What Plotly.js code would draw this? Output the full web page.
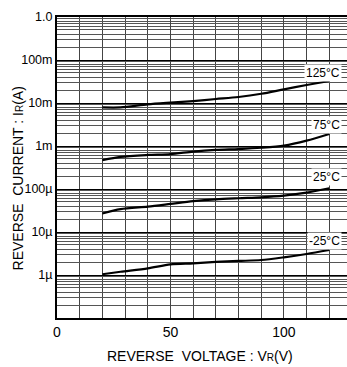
<!DOCTYPE html>
<html>
<head>
<meta charset="utf-8">
<script src="https://cdn.plot.ly/plotly-3.0.1.min.js"></script>
<style>
html,body{margin:0;padding:0;background:#fff;}
#chart{width:347px;height:367px;}
</style>
</head>
<body>
<div id="chart"></div>
<script>
// Reverse voltage (V)
const voltage = [20, 28, 40, 50, 60, 70, 80, 90, 100, 110, 120];
// Reverse current (A) per temperature
const cur125 = [7.9e-3, 7.9e-3, 9.3e-3, 1.02e-2, 1.11e-2, 1.24e-2, 1.38e-2, 1.64e-2, 2.08e-2, 2.62e-2, 3.25e-2];
const cur75  = [4.7e-4, 5.6e-4, 6.2e-4, 6.5e-4, 7.4e-4, 8.1e-4, 8.5e-4, 9.1e-4, 1.02e-3, 1.33e-3, 1.9e-3];
const cur25  = [2.7e-5, 3.4e-5, 3.9e-5, 4.5e-5, 5.2e-5, 5.75e-5, 6.1e-5, 6.4e-5, 7.0e-5, 8.2e-5, 1.04e-4];
const curM25 = [1.04e-6, 1.19e-6, 1.43e-6, 1.77e-6, 1.87e-6, 2.01e-6, 2.12e-6, 2.23e-6, 2.58e-6, 3.08e-6, 3.81e-6];
const seriesNames = ['125°C', '75°C', '25°C', '-25°C'];
const labelY = [-1.309, -2.512, -3.728, -5.202]; // log10 position of curve labels

const yTickVals = [1e-6, 1e-5, 1e-4, 1e-3, 1e-2, 1e-1, 1];
const yTickText = ['1µ', '10µ', '100µ', '1m', '10m', '100m', '1.0'];
const xTickVals = [0, 50, 100];
const xTickText = ['0', '50', '100'];

const yMinor = [];
for (let e = -7; e < 0; e++) {
  for (let d = 2; d <= 9; d++) yMinor.push(d * Math.pow(10, e));
}

const FONT = 'Liberation Sans, Arial, Helvetica, sans-serif';
const series = [cur125, cur75, cur25, curM25];
const traces = series.map((s, i) => ({
  x: voltage, y: s, type: 'scatter', mode: 'lines', name: seriesNames[i],
  line: {color: '#000', width: 2.2, shape: 'spline', smoothing: 0.8},
  hoverinfo: 'skip'
}));

const annotations = seriesNames.map((n, i) => ({
  x: 125.6, y: labelY[i], xref: 'x', yref: 'y', text: n, showarrow: false,
  xanchor: 'right', yanchor: 'middle', bgcolor: '#fff', borderpad: 1,
  font: {family: FONT, size: 12, color: '#000'}
}));
annotations.push({
  xref: 'paper', yref: 'paper', x: -0.1345, y: 0.4635, textangle: -90,
  text: "REVERSE  CURRENT : I<span style='font-size:10px'>R</span>(A)",
  showarrow: false, xanchor: 'center', yanchor: 'middle',
  font: {family: FONT, size: 14, color: '#000'}
});
annotations.push({
  xref: 'paper', yref: 'paper', x: 0.493, y: -0.126,
  text: "REVERSE  VOLTAGE : V<span style='font-size:10px'>R</span>(V)",
  showarrow: false, xanchor: 'center', yanchor: 'middle',
  font: {family: FONT, size: 14, color: '#000'}
});

const layout = {
  width: 347, height: 367,
  margin: {l: 57, r: 0, t: 17, b: 49, pad: 0},
  paper_bgcolor: '#fff', plot_bgcolor: '#fff',
  showlegend: false,
  font: {family: FONT, color: '#000'},
  xaxis: {
    range: [0, 127.8], tickmode: 'array', tickvals: xTickVals, ticktext: xTickText,
    showgrid: true, gridcolor: '#444', gridwidth: 1, zeroline: false,
    showline: true, linecolor: '#000', linewidth: 2, mirror: true,
    ticks: '', tickfont: {family: FONT, size: 14, color: '#000'},
    minor: {tickmode: 'linear', tick0: 0, dtick: 10, showgrid: true, gridcolor: '#444', gridwidth: 1, ticks: ''}
  },
  yaxis: {
    type: 'log', range: [-7, 0], tickmode: 'array', tickvals: yTickVals, ticktext: yTickText,
    showgrid: true, gridcolor: '#000', gridwidth: 1, zeroline: false,
    showline: true, linecolor: '#000', linewidth: 2,
    ticks: '', tickfont: {family: FONT, size: 12.5, color: '#000'},
    minor: {tickmode: 'array', tickvals: yMinor, showgrid: true, gridcolor: '#555', gridwidth: 1, ticks: ''}
  },
  annotations: annotations
};

Plotly.newPlot('chart', traces, layout, {staticPlot: true, displayModeBar: false});
</script>
</body>
</html>
